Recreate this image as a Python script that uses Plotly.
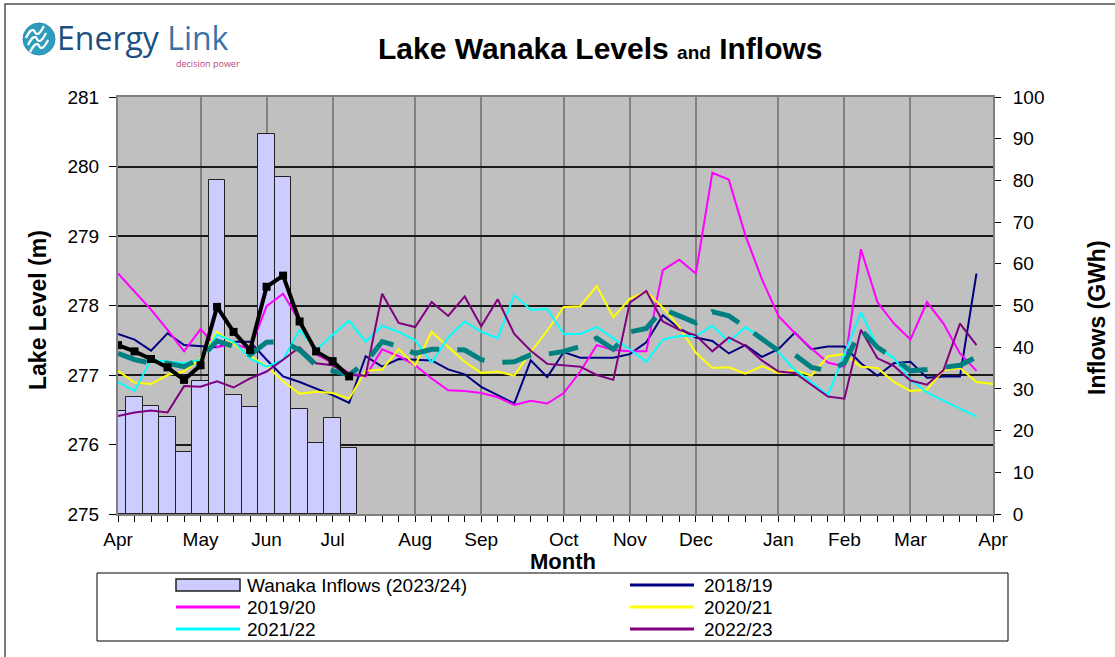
import plotly.graph_objects as go

# ---------------- data ----------------
month_ticks = [0, 5, 9, 13, 18, 22, 27, 31, 35, 40, 44, 48, 53]
month_labels = ["Apr", "May", "Jun", "Jul", "Aug", "Sep", "Oct", "Nov", "Dec",
                "Jan", "Feb", "Mar", "Apr"]

weeks_full = list(range(53))          # week 0 .. 52
weeks_full_plus = list(range(54))     # week 0 .. 53
weeks_current = list(range(15))       # week 0 .. 14

inflows_2023 = [24.8, 28.0, 25.9, 23.2, 14.9, 32.0, 80.1, 28.5, 25.7, 91.2,
                80.8, 25.3, 17.0, 23.1, 15.8]

level_2023 = [277.43, 277.34, 277.23, 277.11, 276.93, 277.14, 277.98, 277.62,
              277.36, 278.27, 278.43, 277.77, 277.34, 277.20, 276.98]

level_2018 = [277.59, 277.51, 277.35, 277.60, 277.43, 277.41, 277.40, 277.48,
              277.48, 277.22, 276.98, 276.90, 276.81, 276.71, 276.60, 277.27,
              277.12, 277.23, 277.22, 277.21, 277.08, 277.01, 276.83, 276.71,
              276.59, 277.21, 276.97, 277.33, 277.25, 277.25, 277.25, 277.30,
              277.47, 277.86, 277.67, 277.54, 277.49, 277.31, 277.43, 277.26,
              277.37, 277.61, 277.37, 277.41, 277.41, 277.17, 276.99, 277.17,
              277.19, 276.96, 276.98, 276.98, 278.46]

level_2019 = [278.46, 278.20, 277.94, 277.65, 277.34, 277.66, 277.40, 277.45,
              277.37, 277.99, 278.17, 277.77, 277.30, 277.17, 277.03, 276.98,
              277.37, 277.27, 277.14, 276.95, 276.78, 276.77, 276.74, 276.68,
              276.57, 276.63, 276.59, 276.74, 277.05, 277.43, 277.36, 277.34,
              277.34, 278.51, 278.66, 278.46, 279.91, 279.81, 279.01, 278.38,
              277.85, 277.60, 277.38, 277.18, 277.12, 278.81, 278.05, 277.74,
              277.51, 278.05, 277.74, 277.31, 277.06]

level_2020 = [277.06, 276.89, 276.87, 277.00, 277.05, 277.24, 277.62, 277.45,
              277.27, 277.13, 276.91, 276.73, 276.76, 276.74, 276.66, 277.06,
              277.08, 277.37, 277.14, 277.62, 277.41, 277.19, 277.03, 277.05,
              276.99, 277.33, 277.64, 277.98, 277.99, 278.28, 277.83, 278.10,
              278.20, 277.97, 277.69, 277.32, 277.10, 277.11, 277.02, 277.13,
              277.03, 277.07, 276.99, 277.27, 277.30, 277.12, 277.10, 276.90,
              276.77, 276.79, 277.07, 277.10, 276.90, 276.87]

level_2021 = [276.90, 276.77, 277.22, 277.20, 277.17, 277.22, 277.58, 277.48,
              277.24, 277.12, 277.22, 277.65, 277.36, 277.58, 277.78, 277.48,
              277.71, 277.62, 277.50, 277.18, 277.54, 277.77, 277.62, 277.53,
              278.15, 277.94, 277.95, 277.59, 277.59, 277.69, 277.53, 277.37,
              277.19, 277.51, 277.56, 277.56, 277.71, 277.48, 277.69, 277.53,
              277.33, 277.07, 276.90, 276.71, 277.30, 277.90, 277.41, 277.24,
              276.93, 276.75, 276.63, 276.52, 276.40]

level_2022 = [276.41, 276.46, 276.49, 276.46, 276.84, 276.83, 276.91, 276.82,
              276.95, 277.05, 277.22, 277.40, 277.17, 277.14, 277.00, 276.99,
              278.17, 277.75, 277.69, 278.05, 277.85, 278.13, 277.70, 278.09,
              277.59, 277.35, 277.16, 277.14, 277.12, 277.00, 276.93, 278.04,
              278.21, 277.77, 277.65, 277.57, 277.34, 277.54, 277.42, 277.21,
              277.05, 277.03, 276.86, 276.69, 276.66, 277.65, 277.24, 277.13,
              276.92, 276.86, 277.07, 277.74, 277.43]

level_average = [277.31, 277.22, 277.17, 277.17, 277.12, 277.24, 277.49, 277.41,
                 277.29, 277.47, 277.48, 277.36, 277.14, 277.06, 277.00, 277.18,
                 277.48, 277.41, 277.31, 277.37, 277.37, 277.36, 277.22, 277.18,
                 277.19, 277.29, 277.30, 277.34, 277.41, 277.53, 277.37, 277.62,
                 277.67, 277.95, 277.85, 277.75, 277.91, 277.85, 277.69, 277.52,
                 277.35, 277.29, 277.11, 277.06, 277.17, 277.65, 277.40, 277.24,
                 277.06, 277.08, 277.11, 277.14, 277.26]

legend_names = ["Wanaka Inflows (2023/24)", "2018/19", "2019/20", "2020/21",
                "2021/22", "2022/23"]

# ---------------- layout helpers (pixel -> paper) ----------------
L, R, T, B = 118, 122, 97, 143
W, H = 1115, 657
PW, PH = W - L - R, H - T - B


def px(xp):
    return (xp - L) / PW


def py(yp):
    return (T + PH - yp) / PH


FONT = "Arial, Liberation Sans, sans-serif"
BAR_FILL = "#CCCCFF"

fig = go.Figure()

fig.add_trace(go.Bar(
    x=weeks_current, y=inflows_2023, name=legend_names[0],
    width=1.0, marker=dict(color=BAR_FILL, line=dict(color="#202020", width=1)),
    yaxis="y", showlegend=False))

series = [
    (legend_names[1], weeks_full, level_2018, "#000080"),
    (legend_names[2], weeks_full, level_2019, "#FF00FF"),
    (legend_names[3], weeks_full_plus, level_2020, "#FFFF00"),
    (legend_names[4], weeks_full, level_2021, "#00FFFF"),
    (legend_names[5], weeks_full, level_2022, "#800080"),
]
for name, xs, ys, col in series:
    fig.add_trace(go.Scatter(x=xs, y=ys, name=name, mode="lines", showlegend=False,
                             line=dict(color=col, width=2), yaxis="y2"))

fig.add_trace(go.Scatter(x=weeks_full, y=level_average, mode="lines", showlegend=False,
                         line=dict(color="#008080", width=5, dash="30px,18px"), yaxis="y2"))
fig.add_trace(go.Scatter(x=weeks_current, y=level_2023, mode="lines+markers", showlegend=False,
                         line=dict(color="#000000", width=4),
                         marker=dict(symbol="square", size=8, color="#000000"), yaxis="y2"))

axis_font = dict(family=FONT, size=19, color="#000000")

shapes = [
    # outer frame
    dict(type="rect", xref="paper", yref="paper", x0=px(5), x1=px(1125), y0=py(4), y1=py(665),
         line=dict(color="#505050", width=1.5), layer="below"),
    # legend box
    dict(type="rect", xref="paper", yref="paper", x0=px(97), x1=px(1008), y0=py(573), y1=py(641),
         line=dict(color="#000000", width=1), fillcolor="#FFFFFF", layer="below"),
    # logo circle
    dict(type="circle", xref="paper", yref="paper", x0=px(23), x1=px(55), y0=py(23), y1=py(55),
         line=dict(color="#2a8fb0", width=1), fillcolor="#2e9cbc", layer="above"),
]
# logo waves
for off in (-7, 0, 7):
    pts = [(28 + off * 0.3, 45 + off), (34 + off * 0.3, 37 + off), (40 + off * 0.3, 41 + off),
           (46 + off * 0.3, 33 + off)]
    path = "M {},{} Q {},{} {},{} T {},{}".format(
        px(pts[0][0]), py(pts[0][1]), px(pts[1][0]), py(pts[1][1] - 4),
        px((pts[1][0] + pts[2][0]) / 2), py((pts[1][1] + pts[2][1]) / 2),
        px(pts[3][0]), py(pts[3][1]))
    shapes.append(dict(type="path", xref="paper", yref="paper", path=path,
                       line=dict(color="#FFFFFF", width=2.2), layer="above"))

annotations = [
    dict(text="<b>Lake Wanaka Levels <span style='font-size:19px'>and</span> Inflows</b>",
         x=px(600), y=py(48), xref="paper", yref="paper", showarrow=False,
         xanchor="center", yanchor="middle", font=dict(family=FONT, size=30, color="#000")),
    dict(text="<b>Lake Level (m)</b>", x=px(38), y=py(310), xref="paper", yref="paper",
         showarrow=False, textangle=-90, xanchor="center", yanchor="middle",
         font=dict(family=FONT, size=23, color="#000")),
    dict(text="<b>Inflows (GWh)</b>", x=px(1097), y=py(318), xref="paper", yref="paper",
         showarrow=False, textangle=-90, xanchor="center", yanchor="middle",
         font=dict(family=FONT, size=23, color="#000")),
    dict(text="<b>Month</b>", x=px(563), y=py(561), xref="paper", yref="paper",
         showarrow=False, xanchor="center", yanchor="middle",
         font=dict(family=FONT, size=22, color="#000")),
    dict(text="<span style='color:#1d4f80'>Energy</span> <span style='color:#3a72a8'>Link</span>",
         x=px(55), y=py(37), xref="paper", yref="paper", showarrow=False,
         xanchor="left", yanchor="middle", font=dict(family="Open Sans, sans-serif", size=32)),
    dict(text="decision power", x=px(174), y=py(63), xref="paper", yref="paper",
         showarrow=False, xanchor="left", yanchor="middle",
         font=dict(family="Open Sans, sans-serif", size=9, color="#c0447c")),
]

# ---------------- legend (two columns inside the box) ----------------
legend_cols = [(176, 240, 245), (630, 694, 702)]
legend_rows = [585, 607, 629]
legend_colors = [None, "#000080", "#FF00FF", "#FFFF00", "#00FFFF", "#800080"]
for i, name in enumerate(legend_names):
    row, col = divmod(i, 2)
    x0, x1, xt = legend_cols[col]
    yc = legend_rows[row]
    if legend_colors[i] is None:
        shapes.append(dict(type="rect", xref="paper", yref="paper",
                           x0=px(x0), x1=px(x1), y0=py(yc + 6), y1=py(yc - 6),
                           fillcolor=BAR_FILL, line=dict(color="#202020", width=1.5),
                           layer="above"))
    else:
        shapes.append(dict(type="line", xref="paper", yref="paper",
                           x0=px(x0), x1=px(x1), y0=py(yc), y1=py(yc),
                           line=dict(color=legend_colors[i], width=3), layer="above"))
    annotations.append(dict(text=name, x=px(xt), y=py(yc), xref="paper", yref="paper",
                            showarrow=False, xanchor="left", yanchor="middle",
                            font=dict(family=FONT, size=19, color="#000")))

fig.update_layout(
    width=W, height=H,
    margin=dict(l=L, r=R, t=T, b=B, autoexpand=False),
    paper_bgcolor="#FFFFFF", plot_bgcolor="#C0C0C0",
    bargap=0, barmode="overlay",
    showlegend=False,
    xaxis=dict(range=[0, 53], tickmode="array", tickvals=month_ticks, ticktext=month_labels,
               showgrid=True, gridcolor="#808080", gridwidth=2,
               ticks="outside", ticklen=6, tickcolor="#000", tickfont=axis_font,
               ticklabelstandoff=1,
               minor=dict(dtick=1, tick0=0, ticks="outside", ticklen=6, tickcolor="#000",
                          showgrid=False),
               showline=True, linecolor="#808080", linewidth=2, mirror=True, zeroline=False),
    yaxis=dict(side="right", range=[0, 100], dtick=10, tick0=0, showgrid=False,
               ticks="outside", ticklen=6, tickcolor="#000", tickfont=axis_font,
               ticklabelstandoff=8,
               showline=True, linecolor="#808080", linewidth=2, zeroline=False),
    yaxis2=dict(side="left", overlaying="y", range=[275, 281], dtick=1, tick0=275,
                showgrid=True, gridcolor="#1a1a1a", gridwidth=1.5,
                ticks="outside", ticklen=7, tickcolor="#000", tickfont=axis_font,
                ticklabelstandoff=6,
                showline=True, linecolor="#808080", linewidth=2, zeroline=False),
    shapes=shapes,
    annotations=annotations,
)

fig.write_html("out.html", config={"displayModeBar": False},
               post_script="document.body.style.margin='0';document.body.style.overflow='hidden';")
